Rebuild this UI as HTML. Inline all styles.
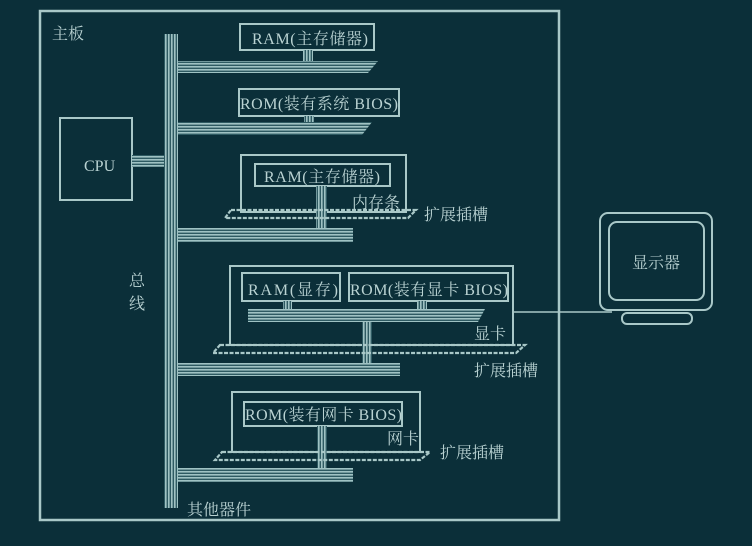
<!DOCTYPE html>
<html><head><meta charset="utf-8"><style>
html,body{margin:0;padding:0;background:#0b2f39;}
svg{display:block}
text{font-family:"Liberation Serif","Noto Serif CJK SC",serif;fill:#b9d2d2;font-size:16px}
</style></head><body>
<svg width="752" height="546" viewBox="0 0 752 546" xmlns="http://www.w3.org/2000/svg">
<defs>
<pattern id="h" patternUnits="userSpaceOnUse" width="4" height="3"><rect width="4" height="3" fill="#2e5a62"/><rect width="4" height="1.6" fill="#9fc2c3"/></pattern>
<pattern id="v" patternUnits="userSpaceOnUse" width="3" height="4"><rect width="3" height="4" fill="#2e5a62"/><rect width="1.6" height="4" fill="#9fc2c3"/></pattern>
</defs>
<rect width="752" height="546" fill="#0b2f39"/>
<g fill="none" stroke="#a9c8c8" stroke-width="2">
<rect x="40" y="11" width="519" height="509" stroke-width="2.5"/>
<rect x="60" y="118" width="72" height="82"/>
<rect x="240" y="24" width="134" height="26"/>
<rect x="239" y="89" width="160" height="27"/>
<rect x="241" y="155" width="165" height="57"/>
<rect x="255" y="164" width="135" height="22"/>
<rect x="230" y="266" width="283" height="79"/>
<rect x="242" y="273" width="98" height="28"/>
<rect x="349" y="273" width="159" height="28"/>
<rect x="232" y="392" width="188" height="60"/>
<rect x="244" y="402" width="158" height="24"/>
<path d="M513 312 H612" stroke-width="1.5"/>
<rect x="600" y="213" width="112" height="97" rx="8"/>
<rect x="609" y="222" width="95" height="78" rx="8"/>
<rect x="622" y="313" width="70" height="11" rx="5"/>
</g>
<rect x="164" y="34" width="14" height="474" fill="url(#v)"/>
<rect x="132" y="155" width="32" height="12" fill="url(#h)"/>
<polygon points="178,61 378,61 368,73 178,73" fill="url(#h)"/>
<rect x="303" y="50" width="10" height="11" fill="url(#v)"/>
<polygon points="178,122 372,122 362,135 178,135" fill="url(#h)"/>
<rect x="304" y="116" width="10" height="6" fill="url(#v)"/>
<rect x="178" y="228" width="175" height="14" fill="url(#h)"/>
<rect x="316" y="186" width="11" height="42" fill="url(#v)"/>
<polygon points="231,210 416,210 408,218 225,218" fill="none" stroke="#a9c8c8" stroke-width="2.2" stroke-dasharray="4 1.5"/>
<polygon points="248,309 485,309 478,322 248,322" fill="url(#h)"/>
<rect x="283" y="301" width="9" height="8" fill="url(#v)"/>
<rect x="417" y="301" width="10" height="8" fill="url(#v)"/>
<rect x="362" y="322" width="10" height="41" fill="url(#v)"/>
<polygon points="220,345 525,345 516,353 213,353" fill="none" stroke="#a9c8c8" stroke-width="2.2" stroke-dasharray="4 1.5"/>
<rect x="178" y="363" width="222" height="13" fill="url(#h)"/>
<rect x="317" y="426" width="10" height="42" fill="url(#v)"/>
<polygon points="222,452 430,452 420,460 215,460" fill="none" stroke="#a9c8c8" stroke-width="2.2" stroke-dasharray="4 1.5"/>
<rect x="178" y="468" width="175" height="14" fill="url(#h)"/>
<text x="52" y="39">主板</text>
<text x="84" y="171" font-size="17">CPU</text>
<text x="252" y="44" font-size="17" textLength="116">RAM(主存储器)</text>
<text x="240" y="109" font-size="17" textLength="158">ROM(装有系统 BIOS)</text>
<text x="264" y="182" font-size="17" textLength="116">RAM(主存储器)</text>
<text x="352" y="208" font-size="17">内存条</text>
<text x="424" y="220" font-size="18">扩展插槽</text>
<text x="129" y="286">总</text>
<text x="129" y="309">线</text>
<text x="248" y="295" font-size="17" textLength="90">RAM(显存)</text>
<text x="350" y="295" font-size="17" textLength="158">ROM(装有显卡 BIOS)</text>
<text x="474" y="339" font-size="17">显卡</text>
<text x="474" y="376" font-size="18">扩展插槽</text>
<text x="245" y="420" font-size="17" textLength="157">ROM(装有网卡 BIOS)</text>
<text x="387" y="444" font-size="17">网卡</text>
<text x="440" y="458" font-size="18">扩展插槽</text>
<text x="187" y="515">其他器件</text>
<text x="632" y="268" font-size="17">显示器</text>
</svg>
</body></html>
